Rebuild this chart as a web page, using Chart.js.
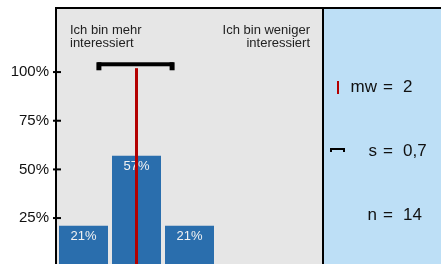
<!DOCTYPE html>
<html>
<head>
<meta charset="utf-8">
<script src="https://cdn.jsdelivr.net/npm/chart.js@4/dist/chart.umd.min.js"></script>
<style>
    body { margin: 0; background: #ffffff; }
    #box { width: 441px; height: 264px; position: relative; }
</style>
</head>
<body>
<div id="box"><canvas id="grafico"></canvas></div>
<script>
// Daten
const kategorien = ['1', '2', '3', '4', '5'];
const anteile = [21, 57, 21, 0, 0];
const tickWerte = [25, 50, 75, 100];
const mittelwert = 2;
const streuung = 0.7;
const anzahl = 14;
const textLinks = ['Ich bin mehr', 'interessiert'];
const textRechts = ['Ich bin weniger', 'interessiert'];

const schrift = '"Liberation Sans", Arial, sans-serif';
const blau = '#2a6ead';
const rot = '#b30000';

// Hintergrund, Rahmen, Mittelwert und Streuung
const extras = {
    id: 'extras',
    beforeDraw(chart) {
        const ctx = chart.ctx;
        const a = chart.chartArea;
        ctx.save();
        ctx.fillStyle = '#e6e6e6';
        ctx.fillRect(a.left, a.top, a.right - a.left, a.bottom - a.top);
        ctx.fillStyle = '#bddff6';
        ctx.fillRect(a.right, a.top, chart.width - a.right, a.bottom - a.top);
        ctx.restore();
    },
    afterDatasetsDraw(chart) {
        const ctx = chart.ctx;
        const a = chart.chartArea;
        const x = chart.scales.x;
        const y = chart.scales.y;
        ctx.save();

        // Prozentwerte in den Balken
        ctx.fillStyle = '#f2f2f2';
        ctx.font = '13px ' + schrift;
        ctx.textAlign = 'center';
        ctx.textBaseline = 'alphabetic';
        chart.getDatasetMeta(0).data.forEach((bar, i) => {
            if (anteile[i] > 0) {
                ctx.fillText(anteile[i] + '%', bar.x, bar.y + 14);
            }
        });

        // Mittelwert-Linie
        const mx = x.getPixelForValue(mittelwert - 1);
        ctx.fillStyle = rot;
        ctx.fillRect(mx - 1.5, y.getPixelForValue(102), 3, a.bottom - y.getPixelForValue(102));

        // Streuung
        const x1 = x.getPixelForValue(mittelwert - 1 - streuung);
        const x2 = x.getPixelForValue(mittelwert - 1 + streuung);
        const sy = y.getPixelForValue(104);
        ctx.fillStyle = '#000000';
        ctx.fillRect(x1 - 2, sy - 2, x2 - x1 + 2, 4);
        ctx.fillRect(x1 - 3, sy - 2, 5, 8);
        ctx.fillRect(x2 - 4, sy - 2, 5, 8);

        // Rahmen
        ctx.fillRect(a.left - 2, a.top - 2, chart.width - a.left + 2, 2);
        ctx.fillRect(a.left - 2, a.top - 2, 2, a.bottom - a.top + 2);
        ctx.fillRect(a.right, a.top - 2, 2, a.bottom - a.top + 2);

        // Tick-Striche
        y.ticks.forEach(t => {
            const ty = y.getPixelForValue(t.value);
            ctx.fillRect(a.left - 4, ty - 1, 8, 2);
        });

        // Texte oben
        ctx.font = '13px ' + schrift;
        ctx.fillStyle = '#222222';
        ctx.textAlign = 'left';
        ctx.fillText(textLinks[0], a.left + 13, 34);
        ctx.fillText(textLinks[1], a.left + 13, 47);
        ctx.textAlign = 'right';
        ctx.fillText(textRechts[0], a.right - 12, 34);
        ctx.fillText(textRechts[1], a.right - 12, 47);

        // Kennwerte rechts
        const zeilen = [
            ['mw', String(mittelwert), 92],
            ['s', String(streuung).replace('.', ','), 156],
            ['n', String(anzahl), 220]
        ];
        ctx.font = '17px ' + schrift;
        ctx.fillStyle = '#111111';
        zeilen.forEach(z => {
            ctx.textAlign = 'right';
            ctx.fillText(z[0], a.right + 55, z[2]);
            ctx.textAlign = 'left';
            ctx.fillText('=', a.right + 61, z[2]);
            ctx.fillText(z[1], a.right + 81, z[2]);
        });

        // kleine Symbole
        ctx.fillStyle = rot;
        ctx.fillRect(a.right + 15, 81, 2, 13);
        ctx.fillStyle = '#000000';
        ctx.fillRect(a.right + 9, 148, 14, 2);
        ctx.fillRect(a.right + 8, 148, 2, 4);
        ctx.fillRect(a.right + 21, 148, 2, 4);

        ctx.restore();
    }
};

var ctxGrafico = document.getElementById('grafico').getContext('2d');
new Chart(ctxGrafico, {
    type: 'bar',
    data: {
        labels: kategorien,
        datasets: [{
            data: anteile,
            backgroundColor: blau,
            borderWidth: 0,
            barPercentage: 49 / 53,
            categoryPercentage: 1
        }]
    },
    options: {
        responsive: true,
        maintainAspectRatio: false,
        animation: false,
        layout: { padding: { top: 9, right: 119, left: 0, bottom: 0 } },
        plugins: {
            legend: { display: false },
            tooltip: { enabled: false }
        },
        scales: {
            x: { display: false },
            y: {
                min: 1.4,
                max: 132.4,
                grid: { display: false, drawTicks: false },
                border: { display: false },
                ticks: {
                    padding: 8,
                    color: '#111111',
                    font: { family: schrift, size: 15 },
                    callback: v => v + '%'
                },
                afterBuildTicks: scale => {
                    scale.ticks = tickWerte.map(v => ({ value: v }));
                },
                afterFit: scale => {
                    scale.width = 57;
                    scale.paddingTop = 0;
                    scale.paddingBottom = 0;
                }
            }
        }
    },
    plugins: [extras]
});
</script>
</body>
</html>
